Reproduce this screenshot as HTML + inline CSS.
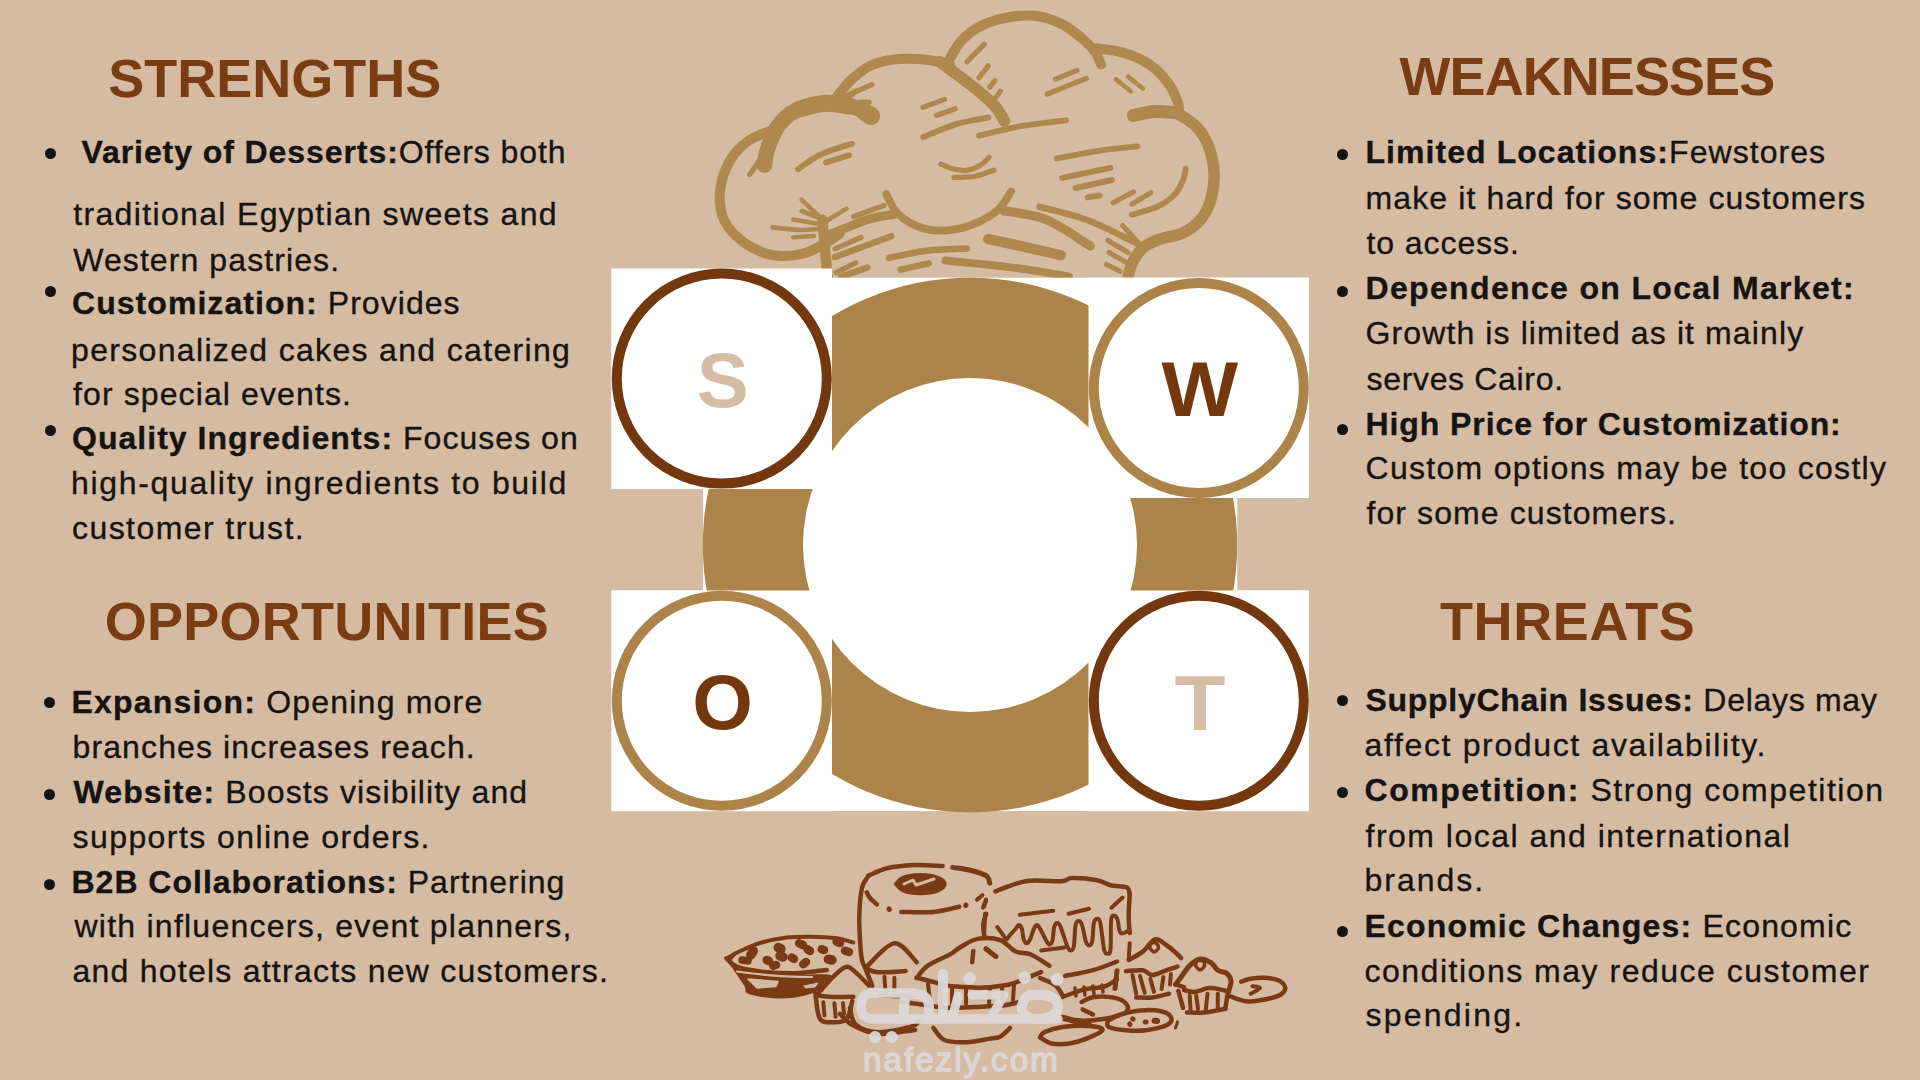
<!DOCTYPE html><html><head><meta charset="utf-8"><style>
html,body{margin:0;padding:0;width:1920px;height:1080px;overflow:hidden;background:#D4BBA2;}
body{position:relative;font-family:"Liberation Sans",sans-serif;}
.l{position:absolute;white-space:nowrap;font-size:32px;line-height:32px;color:#161412;-webkit-text-stroke:0.35px #161412;}
.l b{font-weight:bold;}
.h{position:absolute;white-space:nowrap;font-size:54px;line-height:54px;font-weight:bold;color:#7A3D13;}
.d{position:absolute;width:11px;height:11px;border-radius:50%;background:#161412;}
svg{position:absolute;left:0;top:0;}
</style></head><body>

<svg width="1920" height="1080" viewBox="0 0 1920 1080">
<g fill="none" stroke="#AE884D" stroke-linecap="round" stroke-linejoin="round">
<path d="M871.9,115.5C868.3,113.9 858.4,108.0 850.4,106.0C842.4,104.0 832.5,102.7 823.6,103.4C814.7,104.1 804.3,106.2 796.7,110.0C789.1,113.8 782.8,119.5 777.9,126.2C773.0,132.9 769.3,143.9 767.1,150.4C764.9,156.9 764.9,162.7 764.5,165.2" stroke-width="15.5"/>
<path d="M866.0,113.0L871.0,116.0" stroke-width="18.2"/>
<path d="M777.0,128.0C772.2,130.2 756.2,135.5 748.3,141.0C740.4,146.5 734.2,152.9 729.5,161.2C724.8,169.5 721.0,180.8 720.1,190.7C719.2,200.5 720.4,211.8 724.2,220.3C728.0,228.8 735.0,235.9 743.0,241.7C751.0,247.5 762.7,253.2 772.5,255.2C782.3,257.2 793.5,255.6 802.0,253.8C810.5,252.0 817.3,247.8 823.6,244.4C829.9,241.1 837.0,235.5 839.7,233.7" stroke-width="10"/>
<path d="M749.7,174.6L764.5,153.0" stroke-width="5.2"/>
<path d="M798.0,169.2C801.8,166.7 811.9,158.7 820.9,154.4C829.9,150.2 846.6,145.5 851.8,143.7" stroke-width="5.9"/>
<path d="M826.2,162.5L849.0,155.2" stroke-width="5.9"/>
<path d="M841.0,98.0L871.9,84.6" stroke-width="5.2"/>
<path d="M846.4,99.4L855.8,91.3" stroke-width="5.2"/>
<path d="M858.5,102.0L869.2,102.0" stroke-width="5.2"/>
<path d="M837.0,96.7C839.3,93.9 845.2,85.3 851.0,80.0C856.8,74.7 864.0,68.5 872.0,65.0C880.0,61.5 889.4,59.8 898.8,59.0C908.2,58.2 919.8,59.0 928.3,60.0C936.8,61.0 946.2,64.2 949.8,65.0" stroke-width="10"/>
<path d="M940.0,61.8C945.4,65.8 963.2,78.8 972.2,86.0C981.2,93.2 988.3,98.9 993.7,104.7C999.1,110.5 1002.7,118.2 1004.5,120.9" stroke-width="11.7"/>
<path d="M966.9,61.8L984.3,44.3" stroke-width="5.2"/>
<path d="M979.0,77.9L988.3,65.8" stroke-width="5.2"/>
<path d="M989.7,87.3L995.0,80.6" stroke-width="5.2"/>
<path d="M996.4,96.7L1000.4,91.3" stroke-width="5.2"/>
<path d="M948.0,61.8C950.3,58.2 956.2,46.1 962.0,40.0C967.8,33.9 975.0,28.8 983.0,25.0C991.0,21.2 1000.8,18.5 1009.8,17.0C1018.8,15.5 1027.8,14.7 1036.7,16.0C1045.7,17.3 1055.5,20.8 1063.5,25.0C1071.5,29.2 1079.6,36.3 1085.0,41.0C1090.4,45.7 1093.1,49.1 1095.8,53.0C1098.5,56.9 1100.2,62.6 1101.1,64.5" stroke-width="10"/>
<path d="M1095.8,48.3C1100.3,49.0 1113.6,49.7 1122.6,52.4C1131.5,55.1 1141.9,59.4 1149.5,64.5C1157.1,69.7 1163.6,77.0 1168.3,83.3C1173.0,89.5 1175.9,97.5 1177.7,102.0C1179.5,106.5 1178.8,108.7 1179.0,110.0" stroke-width="10"/>
<path d="M1133.4,115.5C1137.0,114.8 1147.8,112.0 1154.9,111.5C1162.1,111.0 1172.7,112.6 1176.3,112.8" stroke-width="13.0"/>
<path d="M1176.3,112.8C1179.6,115.0 1190.7,120.8 1196.0,126.2C1201.3,131.6 1205.0,137.4 1208.0,145.0C1211.0,152.6 1213.5,163.0 1214.0,172.0C1214.5,181.0 1213.2,191.2 1211.0,199.0C1208.8,206.8 1205.7,213.3 1201.0,219.0C1196.3,224.7 1189.8,229.7 1183.0,233.0C1176.2,236.3 1166.7,236.7 1160.2,239.0C1153.7,241.3 1148.6,243.5 1144.1,247.1C1139.6,250.7 1136.1,255.6 1133.4,260.5C1130.7,265.4 1128.9,273.9 1128.0,276.6" stroke-width="11.5"/>
<path d="M1055.5,79.2L1077.0,70.4" stroke-width="5.2"/>
<path d="M1047.4,94.0L1086.4,78.4" stroke-width="5.2"/>
<path d="M1115.9,79.2L1130.7,91.3" stroke-width="4.5"/>
<path d="M1128.0,76.5L1142.8,88.6" stroke-width="4.5"/>
<path d="M979.0,135.6C985.9,134.0 1006.1,128.8 1020.6,126.2C1035.1,123.7 1058.6,121.3 1066.2,120.3" stroke-width="5.9"/>
<path d="M923.2,137.0C929.0,134.8 947.0,126.8 957.9,123.6C968.8,120.4 983.2,118.6 988.3,117.6" stroke-width="5.9"/>
<path d="M922.9,107.4L944.4,99.4" stroke-width="5.2"/>
<path d="M936.4,115.5L955.2,108.8" stroke-width="5.2"/>
<path d="M1056.8,158.5C1064.2,157.2 1087.7,152.4 1101.1,150.4C1114.5,148.4 1131.4,147.1 1137.4,146.4" stroke-width="5.9"/>
<path d="M1062.2,177.8L1110.5,167.9" stroke-width="5.9"/>
<path d="M1075.6,188.0L1111.9,180.0" stroke-width="5.9"/>
<path d="M1087.7,197.4L1099.8,195.5" stroke-width="5.9"/>
<path d="M1113.2,202.8L1133.4,192.0" stroke-width="5.2"/>
<path d="M1132.0,204.1L1150.8,192.8" stroke-width="5.2"/>
<path d="M1132.0,214.8C1136.1,213.5 1150.4,209.6 1156.7,207.0C1163.0,204.4 1166.5,201.7 1170.0,199.0C1173.5,196.3 1175.2,194.3 1177.4,191.0C1179.7,187.7 1182.1,182.7 1183.5,179.0C1184.9,175.3 1185.4,170.5 1185.8,168.8" stroke-width="5.9"/>
<path d="M940.8,164.2C942.8,165.0 948.6,167.8 953.0,168.8C957.4,169.8 962.7,171.0 967.2,170.4C971.7,169.8 976.3,167.7 980.0,165.5C983.7,163.3 987.7,158.6 989.2,157.2" stroke-width="5.2"/>
<path d="M954.0,177.5C957.5,177.3 968.3,177.4 975.0,176.2C981.7,175.0 990.8,171.2 994.0,170.2" stroke-width="5.2"/>
<path d="M1004.0,210.8C1011.0,212.3 1031.9,213.7 1046.3,219.6C1060.7,225.5 1083.0,241.6 1090.3,246.0" stroke-width="9.1"/>
<path d="M1039.4,206.8C1047.5,209.0 1071.6,214.2 1087.7,220.2C1103.8,226.2 1128.0,239.2 1136.0,243.0" stroke-width="6.5"/>
<path d="M988.3,239.0C994.4,240.3 1012.9,244.3 1025.0,247.0C1037.1,249.7 1054.9,253.8 1060.9,255.2" stroke-width="10.4"/>
<path d="M945.4,260.5C957.9,261.9 1000.0,265.9 1020.6,268.6C1041.2,271.3 1060.9,275.3 1069.0,276.6" stroke-width="7.8"/>
<path d="M889.0,258.0C895.0,256.8 912.0,252.6 925.0,251.0C938.0,249.4 960.0,248.9 967.0,248.5" stroke-width="6.5"/>
<path d="M1122.6,225.6L1138.7,243.0" stroke-width="5.2"/>
<path d="M1107.9,240.4L1128.0,252.5" stroke-width="5.2"/>
<path d="M1109.2,252.5L1125.3,261.9" stroke-width="5.2"/>
<path d="M1106.5,264.5L1120.0,271.3" stroke-width="5.2"/>
<path d="M886.2,194.1C888.2,197.5 892.3,208.7 898.5,214.4C904.7,220.1 914.7,225.8 923.2,228.4C931.7,231.0 940.8,231.1 949.6,230.2C958.4,229.3 967.8,226.7 976.0,223.2C984.2,219.7 992.9,214.4 998.8,209.1C1004.6,203.8 1009.0,194.4 1011.1,191.5" stroke-width="7.8"/>
<path d="M822.5,219.6C822.9,224.7 824.1,240.4 825.0,250.0C825.9,259.6 827.2,272.5 827.7,277.0" stroke-width="10.4"/>
<path d="M801.7,199.8L822.5,219.6" stroke-width="4.6"/>
<path d="M801.7,211.0L818.0,217.5" stroke-width="4.6"/>
<path d="M793.3,219.6L818.0,223.8" stroke-width="4.6"/>
<path d="M772.5,227.4C777.1,227.8 792.4,229.7 800.0,230.0C807.6,230.3 815.0,229.2 818.0,229.0" stroke-width="4.6"/>
<path d="M793.3,237.3L814.0,236.0" stroke-width="4.6"/>
<path d="M846.5,208.6L825.0,221.7" stroke-width="4.6"/>
<path d="M830.8,234.2C833.8,233.0 842.9,229.2 848.5,226.9C854.1,224.6 859.0,222.3 864.2,220.6C869.4,218.9 874.9,217.5 879.8,216.5C884.6,215.5 891.0,214.8 893.3,214.4" stroke-width="9.1"/>
<path d="M853.8,216.5L884.0,205.5" stroke-width="5.2"/>
<path d="M835.0,248.8L861.0,237.3" stroke-width="5.2"/>
<path d="M835.0,257.0L891.2,236.2" stroke-width="6.5"/>
<path d="M836.0,272.7L855.8,262.8" stroke-width="5.2"/>
<path d="M841.0,276.9L867.3,267.5" stroke-width="6.5"/>
<path d="M900.6,269.6L928.8,263.3" stroke-width="6.5"/>
<path d="M850.0,106.0C845.6,105.6 831.9,102.9 823.6,103.4C815.3,103.9 803.9,108.1 800.0,109.0" stroke-width="17"/>
</g>
<g fill="#FFFFFF">
<rect x="611.5" y="268.7" width="220.5" height="220.3"/>
<rect x="832" y="277.7" width="477" height="220.3"/>
<rect x="703" y="488" width="534.3" height="103"/>
<rect x="611.5" y="590.5" width="697.5" height="220.6"/>
</g>
<path fill="#AC8449" fill-rule="evenodd" d="M702.8,545a267.2,267.2 0 1,0 534.4,0a267.2,267.2 0 1,0 -534.4,0Z M803,545a167,167 0 1,0 334,0a167,167 0 1,0 -334,0Z"/>
<g fill="#FFFFFF">
<rect x="611.5" y="268.7" width="220.5" height="220.3"/>
<rect x="1088.5" y="277.7" width="220.5" height="220.3"/>
<rect x="611.5" y="590.5" width="220.5" height="220.6"/>
<rect x="1088.5" y="590.5" width="220.5" height="220.6"/>
</g>
<circle cx="721.8" cy="378.6" r="105" fill="none" stroke="#74380F" stroke-width="10"/>
<circle cx="1198.8" cy="388" r="105" fill="none" stroke="#AC8449" stroke-width="10"/>
<circle cx="721.8" cy="700.8" r="105" fill="none" stroke="#AC8449" stroke-width="10"/>
<circle cx="1198.8" cy="700.8" r="105" fill="none" stroke="#74380F" stroke-width="10"/>
<text x="722.7" y="407.0" fill="#D5BDA5" font-family="Liberation Sans" font-weight="bold" font-size="78" text-anchor="middle" transform="translate(722.7,0) scale(1,1) translate(-722.7,0)">S</text>
<text x="1199.9" y="416.5" fill="#74380F" font-family="Liberation Sans" font-weight="bold" font-size="78" text-anchor="middle" transform="translate(1199.9,0) scale(1.04,1) translate(-1199.9,0)">W</text>
<text x="722.5" y="729.2" fill="#74380F" font-family="Liberation Sans" font-weight="bold" font-size="78" text-anchor="middle" transform="translate(722.5,0) scale(1,1) translate(-722.5,0)">O</text>
<text x="1200.1" y="729.8" fill="#D5BDA5" font-family="Liberation Sans" font-weight="bold" font-size="78" text-anchor="middle" transform="translate(1200.1,0) scale(1.07,1) translate(-1200.1,0)">T</text>
<g fill="none" stroke="#7A3A16" stroke-linecap="round" stroke-linejoin="round">
<path d="M726.4,958.5C728.8,957.2 734.9,953.5 740.8,950.8C746.7,948.1 754.1,944.7 761.7,942.5C769.4,940.3 778.4,938.5 786.7,937.5C795.0,936.5 803.4,936.6 811.7,936.7C820.0,936.8 829.8,937.3 836.7,938.3C843.6,939.3 850.5,941.8 853.3,942.5" stroke-width="4"/>
<path d="M735.0,953.3L730.0,959.0" stroke-width="4"/>
<path d="M726.7,958.3C728.4,959.7 730.9,964.5 736.7,966.7C742.5,968.9 752.0,970.6 761.7,971.7C771.4,972.8 784.2,973.6 795.0,973.3C805.8,973.0 821.4,970.5 826.7,970.0" stroke-width="4.5"/>
<path d="M726.7,958.3C729.8,962.8 741.3,979.2 745.0,985.0C748.7,990.8 743.5,990.9 749.0,993.0C754.5,995.1 769.0,997.2 778.0,997.5C787.0,997.8 796.0,996.6 803.0,995.0C810.0,993.4 815.5,991.2 820.0,988.0C824.5,984.8 834.2,978.0 830.0,976.0C825.8,974.0 806.4,976.3 795.0,976.0C783.6,975.7 771.4,975.3 761.7,974.0C752.0,972.7 740.9,969.0 736.7,968.0Z" fill="#7A3A16" stroke-width="2"/>
<path d="M750.8,955.0L753.3,951.0" stroke-width="9.5"/>
<path d="M766.7,960.0L769.0,961.0" stroke-width="8.5"/>
<path d="M778.3,947.5L781.0,949.0" stroke-width="9.5"/>
<path d="M780.0,955.8L783.0,957.0" stroke-width="9.5"/>
<path d="M773.3,965.8L776.0,965.0" stroke-width="8.5"/>
<path d="M791.7,957.5L794.0,959.0" stroke-width="8.5"/>
<path d="M799.2,943.3L803.0,945.0" stroke-width="8.5"/>
<path d="M807.5,949.2L810.0,951.0" stroke-width="8.5"/>
<path d="M821.7,949.2L824.0,950.0" stroke-width="8.5"/>
<path d="M803.3,964.2L806.0,962.0" stroke-width="8.5"/>
<path d="M828.3,959.2L832.0,960.0" stroke-width="9.5"/>
<path d="M845.0,950.8L849.0,952.0" stroke-width="8.5"/>
<path d="M836.7,941.7L840.0,943.0" stroke-width="8.5"/>
<path d="M742.0,960.0L748.0,961.0" stroke-width="7.5"/>
<path d="M815.0,993.0C815.6,992.9 815.9,994.9 818.9,992.2C821.9,989.5 828.7,981.0 833.3,976.7C837.9,972.5 842.6,967.1 846.7,966.7C850.8,966.3 854.1,971.2 857.8,974.4C861.5,977.5 867.0,983.7 868.9,985.6" stroke-width="4.5"/>
<path d="M817.8,995.6C820.7,995.8 829.1,996.8 835.0,997.0C840.9,997.2 850.2,996.8 853.3,996.7" stroke-width="4.5"/>
<path d="M815.6,995.6C816.3,999.5 817.0,1014.5 820.0,1018.9C823.0,1023.3 828.8,1022.2 833.3,1022.2C837.8,1022.2 843.6,1022.4 846.7,1018.9C849.9,1015.4 851.3,1004.1 852.2,1001.1" stroke-width="4.5"/>
<path d="M823.3,1002.2L824.4,1015.6" stroke-width="4"/>
<path d="M834.4,1003.3L835.6,1016.7" stroke-width="4"/>
<path d="M843.0,1003.0L844.0,1014.0" stroke-width="4"/>
<path d="M868.5,875.7C871.6,874.5 879.3,870.1 887.0,868.3C894.7,866.5 905.5,865.5 914.8,865.1C924.1,864.7 938.0,865.9 942.6,866.0" stroke-width="4.5"/>
<path d="M952.8,867.4C955.7,867.9 964.8,868.8 970.4,870.2C976.0,871.6 982.9,873.6 986.1,875.7C989.3,877.9 989.2,881.9 989.8,883.1" stroke-width="5"/>
<path d="M868.5,875.7C867.4,877.7 863.5,881.1 862.0,887.8C860.5,894.4 859.6,906.4 859.3,915.6C859.0,924.9 859.8,935.9 860.2,943.3C860.7,950.7 861.1,955.7 862.0,960.0C862.9,964.3 863.9,964.6 865.6,968.9C867.3,973.2 871.1,982.8 872.2,985.6" stroke-width="4.5"/>
<path d="M896.4,884.1C897.6,883.1 899.4,879.4 903.4,877.9C907.4,876.4 914.7,875.3 920.4,875.3C926.1,875.3 933.4,876.4 937.4,877.9C941.4,879.4 944.4,882.0 944.4,884.1C944.4,886.2 941.4,888.8 937.4,890.3C933.4,891.8 926.1,892.9 920.4,892.9C914.7,892.9 907.4,891.8 903.4,890.3C899.4,888.8 897.6,885.1 896.4,884.1Z" fill="#7A3A16" stroke-width="4.5"/>
<path d="M866.7,892.4C867.2,893.3 868.3,896.0 870.0,898.0C871.7,900.0 875.8,903.3 876.9,904.4" stroke-width="4.5"/>
<path d="M888.9,909.0L889.5,909.5" stroke-width="5"/>
<path d="M901.4,911.9C906.7,911.9 923.6,912.8 933.3,911.9C942.9,911.0 955.0,907.6 959.3,906.8" stroke-width="4.5"/>
<path d="M965.7,905.4L966.0,905.0" stroke-width="5"/>
<path d="M976.9,899.8L982.4,895.2" stroke-width="4"/>
<path d="M984.3,906.3L986.1,899.8" stroke-width="4"/>
<path d="M986.1,913.7C985.6,915.6 983.6,921.1 983.3,924.8C983.0,928.5 984.1,934.0 984.3,935.9" stroke-width="4.5"/>
<path d="M866.7,966.7C871.3,962.8 886.1,944.0 894.4,943.3C902.7,942.5 913.0,959.1 916.7,962.2" stroke-width="4.5"/>
<path d="M866.7,968.9C868.6,969.5 871.3,971.8 877.8,972.2C884.3,972.6 901.0,971.3 905.6,971.1" stroke-width="4.5"/>
<path d="M884.4,976.7L885.6,993.3" stroke-width="4"/>
<path d="M894.4,977.8L894.4,992.2" stroke-width="4"/>
<path d="M881.1,995.6L911.1,996.7" stroke-width="4.5"/>
<path d="M916.7,977.8C918.6,975.8 922.2,969.5 927.8,965.6C933.3,961.7 944.5,957.5 950.0,954.4C955.5,951.2 956.5,949.3 961.1,946.7C965.7,944.1 971.3,940.0 977.8,938.9C984.3,937.8 993.7,937.9 1000.0,940.0C1006.3,942.1 1010.5,949.1 1015.6,951.5C1020.8,953.9 1025.3,952.1 1030.9,954.5C1036.5,956.9 1046.2,963.8 1049.3,965.7" stroke-width="4.5"/>
<path d="M973.3,951.1L972.2,962.2" stroke-width="4.5"/>
<path d="M985.6,948.9L995.6,956.7" stroke-width="4.5"/>
<path d="M916.7,977.8C918.9,978.3 925.0,979.7 930.0,981.0C935.0,982.3 940.9,984.6 946.7,985.6C952.5,986.6 959.5,986.6 965.0,987.0C970.5,987.4 974.2,988.0 980.0,987.8C985.8,987.6 994.5,986.8 1000.0,986.0C1005.5,985.2 1006.5,985.6 1013.3,983.3C1020.1,981.0 1036.4,974.1 1041.0,972.2" stroke-width="4.5"/>
<path d="M902.0,1002.0C905.8,1002.5 917.5,1004.0 925.0,1005.0C932.5,1006.0 938.4,1007.5 946.7,1007.8C955.0,1008.1 965.8,1007.4 975.0,1007.0C984.2,1006.6 994.5,1006.4 1002.0,1005.6C1009.5,1004.8 1017.0,1002.6 1020.0,1002.0" stroke-width="4.5"/>
<path d="M928.0,984.0L930.0,1001.0" stroke-width="4"/>
<path d="M940.0,987.0L941.0,1003.0" stroke-width="4"/>
<path d="M952.0,988.0L952.0,1004.0" stroke-width="4"/>
<path d="M966.0,989.0L966.0,1004.0" stroke-width="4"/>
<path d="M990.0,988.0L989.0,1003.0" stroke-width="4"/>
<path d="M1002.0,987.0L1003.0,1003.0" stroke-width="4"/>
<path d="M1014.0,984.0L1013.0,1000.0" stroke-width="4"/>
<path d="M995.3,891.4C1000.4,889.7 1014.8,882.9 1025.8,881.2C1036.8,879.5 1053.8,881.7 1061.5,881.2C1069.2,880.7 1065.8,878.3 1071.7,878.1C1077.6,877.9 1090.6,879.0 1097.1,880.2C1103.5,881.4 1105.5,884.1 1110.4,885.3C1115.3,886.5 1123.5,885.8 1126.7,887.3C1129.9,888.8 1129.2,893.2 1129.7,894.4" stroke-width="4.5"/>
<path d="M1129.7,894.4C1129.5,898.0 1128.7,909.3 1128.7,915.8C1128.7,922.2 1129.5,930.2 1129.7,933.1" stroke-width="4.5"/>
<path d="M985.1,913.8L984.1,935.2" stroke-width="4"/>
<path d="M986.1,899.5L983.0,907.7" stroke-width="4"/>
<path d="M997.3,927.0C998.3,928.4 1001.8,933.2 1003.3,935.3C1004.8,937.3 1005.4,939.3 1006.5,939.3C1007.6,939.3 1008.2,937.0 1009.7,935.3C1011.2,933.6 1014.0,930.7 1015.5,929.0C1017.0,927.3 1017.6,925.0 1018.7,925.0C1019.8,925.0 1021.1,926.6 1021.9,929.0C1022.7,931.4 1022.9,936.9 1023.7,939.3C1024.5,941.7 1025.8,943.3 1026.9,943.3C1028.0,943.3 1028.9,941.7 1030.1,939.3C1031.2,936.9 1032.6,931.4 1033.8,929.0C1035.0,926.6 1035.9,925.0 1037.0,925.0C1038.1,925.0 1038.7,926.4 1040.2,929.0C1041.7,931.6 1044.6,937.8 1046.1,940.4C1047.6,943.0 1048.2,944.4 1049.3,944.4C1050.4,944.4 1051.7,943.3 1052.5,940.4C1053.3,937.5 1053.4,929.9 1054.2,927.0C1055.0,924.1 1056.3,923.0 1057.4,923.0C1058.5,923.0 1058.9,923.1 1060.6,927.0C1062.3,930.9 1065.7,942.6 1067.4,946.5C1069.1,950.4 1069.5,950.5 1070.6,950.5C1071.7,950.5 1073.0,950.8 1073.8,946.5C1074.6,942.2 1074.8,929.2 1075.6,924.9C1076.4,920.6 1077.7,920.9 1078.8,920.9C1079.9,920.9 1080.8,921.5 1082.0,924.9C1083.2,928.3 1084.6,938.0 1085.8,941.4C1087.0,944.8 1087.9,945.4 1089.0,945.4C1090.1,945.4 1091.4,945.1 1092.2,941.4C1093.0,937.6 1093.1,926.6 1093.9,922.9C1094.7,919.1 1096.0,918.9 1097.1,918.9C1098.2,918.9 1099.1,917.8 1100.3,922.9C1101.5,928.0 1102.9,944.4 1104.1,949.5C1105.3,954.6 1106.2,953.5 1107.3,953.5C1108.4,953.5 1109.8,955.1 1110.5,949.5C1111.2,943.9 1110.5,925.4 1111.2,919.8C1111.9,914.2 1113.3,915.8 1114.4,915.8C1115.5,915.8 1116.6,916.9 1117.6,919.8C1118.6,922.7 1118.6,931.4 1120.6,933.1C1122.6,934.8 1128.2,930.6 1129.7,930.1" stroke-width="4"/>
<path d="M1019.7,914.8L1053.3,910.7" stroke-width="4"/>
<path d="M1068.6,913.8L1089.0,908.7" stroke-width="4"/>
<path d="M1111.4,907.7L1122.6,897.5" stroke-width="4"/>
<path d="M1041.1,950.5L1064.5,947.4" stroke-width="4"/>
<path d="M986.1,948.4L996.3,956.6" stroke-width="4.5"/>
<path d="M1129.7,943.3L1128.7,959.6" stroke-width="4"/>
<path d="M1065.0,976.0C1069.8,975.0 1085.3,972.2 1094.0,969.8C1102.7,967.4 1113.2,962.9 1117.0,961.5" stroke-width="4.5"/>
<path d="M1062.9,996.9C1066.4,995.7 1076.8,991.3 1083.8,989.6C1090.7,987.9 1099.1,988.2 1104.6,986.5C1110.1,984.8 1114.9,980.4 1117.0,979.2" stroke-width="4.5"/>
<path d="M1117.0,970.8L1115.0,988.5" stroke-width="5"/>
<path d="M1075.0,988.0L1076.0,996.0" stroke-width="3.5"/>
<path d="M1084.0,987.0L1085.0,995.0" stroke-width="3.5"/>
<path d="M1093.0,986.0L1094.0,994.0" stroke-width="3.5"/>
<path d="M1102.0,985.0L1103.0,992.0" stroke-width="3.5"/>
<path d="M1040.0,978.0C1042.5,979.2 1051.2,982.0 1055.0,985.0C1058.8,988.0 1061.7,994.2 1063.0,996.0" stroke-width="4.5"/>
<path d="M1062.9,1018.8C1066.4,1019.1 1076.8,1020.8 1083.8,1020.8C1090.7,1020.8 1097.7,1020.1 1104.6,1018.8C1111.5,1017.4 1121.8,1014.9 1125.4,1012.5C1129.1,1010.1 1128.2,1006.6 1126.5,1004.2C1124.8,1001.8 1120.4,999.1 1115.0,997.9C1109.6,996.7 1099.5,996.2 1094.0,996.9C1088.5,997.6 1083.8,1001.1 1081.7,1002.0" stroke-width="4.5"/>
<path d="M1082.7,1009.4L1093.0,1014.6" stroke-width="4.5"/>
<path d="M1107.7,1020.8C1107.9,1021.8 1105.8,1025.4 1108.8,1027.0C1111.7,1028.6 1119.2,1029.7 1125.4,1030.2C1131.6,1030.7 1139.1,1031.1 1146.0,1030.2C1152.9,1029.3 1162.8,1027.1 1167.0,1025.0C1171.2,1022.9 1172.1,1020.0 1171.2,1017.7C1170.4,1015.5 1167.0,1012.7 1162.0,1011.5C1157.0,1010.3 1148.0,1009.9 1141.0,1010.4C1134.0,1010.9 1125.8,1012.9 1120.2,1014.6C1114.7,1016.3 1109.8,1019.8 1107.7,1020.8" stroke-width="4.5"/>
<path d="M1132.7,1018.8L1133.0,1019.0" stroke-width="5"/>
<path d="M1129.6,1024.0L1130.0,1024.5" stroke-width="5"/>
<path d="M1145.2,1021.9L1146.0,1022.0" stroke-width="5"/>
<path d="M1154.6,1020.8L1157.0,1021.0" stroke-width="6"/>
<path d="M1040.0,1037.5C1042.1,1038.5 1047.0,1042.9 1052.5,1043.8C1058.0,1044.6 1066.4,1044.1 1073.3,1042.7C1080.2,1041.3 1089.1,1037.7 1094.0,1035.4C1098.9,1033.2 1103.3,1030.8 1102.5,1029.2C1101.7,1027.6 1095.6,1026.4 1089.0,1026.0C1082.4,1025.6 1070.4,1026.0 1062.9,1027.0C1055.4,1028.0 1048.0,1030.5 1044.2,1032.3C1040.4,1034.0 1040.7,1036.6 1040.0,1037.5" stroke-width="4.5"/>
<path d="M1062.9,1017.7L1089.0,1025.0" stroke-width="6"/>
<path d="M1177.5,1021.9L1175.4,1028.0" stroke-width="3"/>
<path d="M850.0,1007.8C850.9,1010.6 851.0,1020.3 855.6,1024.4C860.2,1028.5 868.5,1031.8 877.8,1032.2C887.0,1032.6 904.2,1028.5 911.1,1026.7C918.0,1024.9 917.6,1022.0 918.9,1021.1" stroke-width="4.5"/>
<path d="M933.3,1027.8C935.1,1029.8 938.8,1037.6 944.4,1040.0C950.0,1042.4 959.3,1042.4 966.7,1042.2C974.1,1042.0 983.4,1039.8 988.9,1038.9C994.4,1038.0 996.5,1038.5 1000.0,1036.7C1003.5,1034.9 1008.3,1029.5 1010.0,1028.0" stroke-width="4.5"/>
<path d="M840.0,1013.8C842.1,1015.6 846.2,1021.7 852.5,1025.0C858.8,1028.3 867.1,1032.9 877.5,1033.8C887.9,1034.6 908.8,1030.6 915.0,1030.0" stroke-width="4.5"/>
<path d="M1128.8,960.0C1131.1,958.6 1138.4,955.0 1142.8,951.6C1147.2,948.2 1151.1,940.5 1155.0,939.4C1158.9,938.3 1162.8,942.8 1166.2,945.0C1169.7,947.2 1173.1,950.3 1175.6,952.5C1178.1,954.7 1180.3,957.2 1181.2,958.1" stroke-width="4.5"/>
<path d="M1149.5,947.8C1149.8,947.1 1149.9,944.3 1151.0,943.5C1152.1,942.7 1154.8,942.3 1156.0,943.0C1157.2,943.7 1158.8,946.3 1158.5,947.8C1158.2,949.3 1155.5,952.0 1154.0,952.0C1152.5,952.0 1150.2,948.5 1149.5,947.8" stroke-width="3.5"/>
<path d="M1126.0,971.2C1128.8,971.1 1138.4,969.7 1142.8,970.3C1147.2,970.9 1148.3,975.0 1152.2,975.0C1156.1,975.0 1162.0,971.7 1166.2,970.3C1170.5,968.9 1175.6,967.2 1177.5,966.6" stroke-width="4.5"/>
<path d="M1132.5,975.0L1136.2,993.8" stroke-width="4"/>
<path d="M1140.0,976.0L1144.7,992.8" stroke-width="4"/>
<path d="M1150.3,978.8L1154.0,991.9" stroke-width="4"/>
<path d="M1163.4,976.9L1161.6,989.0" stroke-width="4"/>
<path d="M1170.9,974.0L1170.0,984.4" stroke-width="4"/>
<path d="M1136.2,997.5C1138.9,997.5 1146.7,998.1 1152.2,997.5C1157.7,996.9 1166.2,994.4 1169.0,993.8" stroke-width="4.5"/>
<path d="M1175.6,984.4C1176.5,983.1 1178.9,980.0 1181.2,976.9C1183.6,973.8 1186.6,968.6 1189.7,965.6C1192.8,962.6 1196.4,959.5 1200.0,959.0C1203.6,958.5 1208.3,960.9 1211.2,962.8C1214.2,964.7 1215.3,968.6 1217.8,970.3C1220.3,972.0 1224.0,971.4 1226.2,973.1C1228.5,974.8 1230.5,977.8 1231.0,980.6C1231.5,983.4 1229.3,988.4 1229.0,990.0" stroke-width="5"/>
<path d="M1195.5,965.6C1195.8,964.8 1195.8,961.8 1197.0,961.0C1198.2,960.2 1201.8,960.2 1203.0,961.0C1204.2,961.8 1205.0,964.1 1204.5,965.6C1204.0,967.1 1201.5,970.0 1200.0,970.0C1198.5,970.0 1196.2,966.3 1195.5,965.6" stroke-width="3.5"/>
<path d="M1175.6,984.4L1184.0,987.2" stroke-width="4.5"/>
<path d="M1184.0,990.0C1185.7,990.3 1190.2,992.2 1194.4,991.9C1198.6,991.6 1204.7,988.4 1209.4,988.1C1214.1,987.8 1219.2,989.4 1222.5,990.0C1225.8,990.6 1227.9,991.6 1229.0,991.9" stroke-width="4.5"/>
<path d="M1178.4,991.0L1183.1,1007.8" stroke-width="4.5"/>
<path d="M1228.0,991.9L1225.3,1008.8" stroke-width="4.5"/>
<path d="M1186.9,1012.5C1189.7,1012.5 1197.3,1013.1 1203.8,1012.5C1210.2,1011.9 1221.7,1009.4 1225.3,1008.8" stroke-width="4.5"/>
<path d="M1189.7,995.6L1190.6,1010.6" stroke-width="4"/>
<path d="M1196.2,995.6L1198.0,1009.0" stroke-width="4"/>
<path d="M1207.5,993.8L1205.6,1011.6" stroke-width="4"/>
<path d="M1217.8,993.8L1217.8,1007.8" stroke-width="4"/>
<path d="M1231.0,996.6C1233.5,997.4 1241.2,1000.6 1246.0,1001.2C1250.8,1001.9 1254.5,1001.2 1260.0,1000.3C1265.5,999.4 1274.5,997.6 1278.8,995.6C1283.0,993.6 1285.3,990.6 1285.3,988.1C1285.3,985.6 1282.2,982.3 1278.8,980.6C1275.3,978.9 1269.4,978.1 1264.7,977.8C1260.0,977.5 1254.5,978.1 1250.6,978.8C1246.7,979.4 1242.8,981.1 1241.2,981.6" stroke-width="4.5"/>
<path d="M1250.6,993.8C1252.2,992.8 1259.7,989.4 1260.0,988.1C1260.3,986.9 1253.8,986.6 1252.5,986.2" stroke-width="4"/>
</g>
<g fill="none" stroke="#D4BBA2" stroke-linecap="round" stroke-linejoin="round">
<path d="M904,884 L913,880 L916,885 L934,879" stroke-width="3"/>
<path d="M737,971.5 Q770,976.5 812,977" stroke-width="2.2"/>
<path d="M748,979 L778,981.5 L776,986.5 L757,988 Z" fill="#D4BBA2" stroke-width="1.5"/>
<path d="M804,986 L818,983 L815,987 L806,988 Z" fill="#D4BBA2" stroke-width="1"/>
</g>
<g fill="none" stroke="#DDDAD8" stroke-linecap="round" stroke-linejoin="round" opacity="0.93">
<path d="M912,993 L874,993 Q861,993 861,1006 Q861,1019 874,1019 L1058,1019" stroke-width="9.5"/>
<path d="M903,1019 L905,998 Q907,994 914,994 L922,995 Q928,997 929,1006 L929,1019" stroke-width="10"/>
<path d="M943,974 L943,1019" stroke-width="10"/>
<path d="M958,996 L952,1019" stroke-width="9"/>
<path d="M972,995 L1004,995 L990,1019" stroke-width="9"/>
<path d="M1030,995 Q1058,993 1058,1006 Q1058,1019 1035,1019 Q1020,1017 1022,1005 Q1024,997 1030,995Z" stroke-width="10"/>
</g>
<g fill="#DDDAD8" opacity="0.93">
<circle cx="969.6" cy="978.2" r="6.3"/>
<circle cx="1024.7" cy="977.5" r="6.3"/>
<circle cx="1057" cy="979.4" r="6.3"/>
<circle cx="875" cy="1036.9" r="6"/>
<circle cx="891.7" cy="1036.9" r="6"/>
<text x="863" y="1071" font-family="Liberation Sans" font-size="33" letter-spacing="2.1" stroke="#DDDAD8" stroke-width="1.6" stroke-linejoin="round">nafezly.com</text>
</g>

</svg>
<div class="l" style="left:81.5px;top:136.2px;letter-spacing:0.92px"><b>Variety of Desserts:</b>Offers both</div>
<div class="l" style="left:73.2px;top:198.4px;letter-spacing:1.35px">traditional Egyptian sweets and</div>
<div class="l" style="left:73.2px;top:243.7px;letter-spacing:1.09px">Western pastries.</div>
<div class="l" style="left:72.0px;top:287.0px;letter-spacing:1.05px"><b>Customization:</b> Provides</div>
<div class="l" style="left:71.0px;top:333.7px;letter-spacing:1.33px">personalized cakes and catering</div>
<div class="l" style="left:73.0px;top:377.7px;letter-spacing:1.11px">for special events.</div>
<div class="l" style="left:72.0px;top:422.0px;letter-spacing:1.03px"><b>Quality Ingredients:</b> Focuses on</div>
<div class="l" style="left:71.0px;top:467.0px;letter-spacing:1.69px">high-quality ingredients to build</div>
<div class="l" style="left:72.0px;top:512.0px;letter-spacing:1.43px">customer trust.</div>
<div class="l" style="left:71.5px;top:686.2px;letter-spacing:1.21px"><b>Expansion:</b> Opening more</div>
<div class="l" style="left:72.5px;top:731.0px;letter-spacing:1.12px">branches increases reach.</div>
<div class="l" style="left:73.5px;top:775.8px;letter-spacing:1.13px"><b>Website:</b> Boosts visibility and</div>
<div class="l" style="left:72.5px;top:820.7px;letter-spacing:1.43px">supports online orders.</div>
<div class="l" style="left:71.5px;top:865.5px;letter-spacing:0.99px"><b>B2B Collaborations:</b> Partnering</div>
<div class="l" style="left:74.5px;top:910.3px;letter-spacing:1.24px">with influencers, event planners,</div>
<div class="l" style="left:72.5px;top:955.1px;letter-spacing:1.24px">and hotels attracts new customers.</div>
<div class="l" style="left:1365.5px;top:136.4px;letter-spacing:1.06px"><b>Limited Locations:</b>Fewstores</div>
<div class="l" style="left:1365.5px;top:182.0px;letter-spacing:1.12px">make it hard for some customers</div>
<div class="l" style="left:1366.5px;top:227.0px;letter-spacing:0.92px">to access.</div>
<div class="l" style="left:1365.5px;top:272.0px;letter-spacing:1.34px"><b>Dependence on Local Market:</b></div>
<div class="l" style="left:1365.5px;top:317.0px;letter-spacing:1.11px">Growth is limited as it mainly</div>
<div class="l" style="left:1366.5px;top:363.0px;letter-spacing:0.67px">serves Cairo.</div>
<div class="l" style="left:1365.5px;top:407.7px;letter-spacing:0.91px"><b>High Price for Customization:</b></div>
<div class="l" style="left:1365.5px;top:452.0px;letter-spacing:1.30px">Custom options may be too costly</div>
<div class="l" style="left:1366.5px;top:497.0px;letter-spacing:1.09px">for some customers.</div>
<div class="l" style="left:1365.5px;top:684.2px;letter-spacing:0.71px"><b>SupplyChain Issues:</b> Delays may</div>
<div class="l" style="left:1364.5px;top:729.0px;letter-spacing:1.65px">affect product availability.</div>
<div class="l" style="left:1364.5px;top:774.4px;letter-spacing:1.52px"><b>Competition:</b> Strong competition</div>
<div class="l" style="left:1365.5px;top:819.5px;letter-spacing:1.49px">from local and international</div>
<div class="l" style="left:1364.5px;top:864.3px;letter-spacing:1.97px">brands.</div>
<div class="l" style="left:1364.5px;top:909.7px;letter-spacing:1.19px"><b>Economic Changes:</b> Economic</div>
<div class="l" style="left:1364.5px;top:954.5px;letter-spacing:1.51px">conditions may reduce customer</div>
<div class="l" style="left:1365.5px;top:999.2px;letter-spacing:2.23px">spending.</div>
<div class="d" style="left:44.8px;top:148.1px"></div>
<div class="d" style="left:44.5px;top:286.2px"></div>
<div class="d" style="left:44.5px;top:424.5px"></div>
<div class="d" style="left:44.2px;top:696.5px"></div>
<div class="d" style="left:44.2px;top:788.5px"></div>
<div class="d" style="left:44.2px;top:878.9px"></div>
<div class="d" style="left:1337.2px;top:148.5px"></div>
<div class="d" style="left:1337.2px;top:286.2px"></div>
<div class="d" style="left:1337.2px;top:423.8px"></div>
<div class="d" style="left:1336.7px;top:695.3px"></div>
<div class="d" style="left:1336.7px;top:786.7px"></div>
<div class="d" style="left:1336.7px;top:925.9px"></div>
<div class="h" style="left:108.2px;top:51.2px;letter-spacing:0.01px">STRENGTHS</div>
<div class="h" style="left:1399.5px;top:48.6px;letter-spacing:-0.93px">WEAKNESSES</div>
<div class="h" style="left:104.8px;top:594.0px;letter-spacing:0.25px">OPPORTUNITIES</div>
<div class="h" style="left:1440.0px;top:593.6px;letter-spacing:0.63px">THREATS</div>
</body></html>
